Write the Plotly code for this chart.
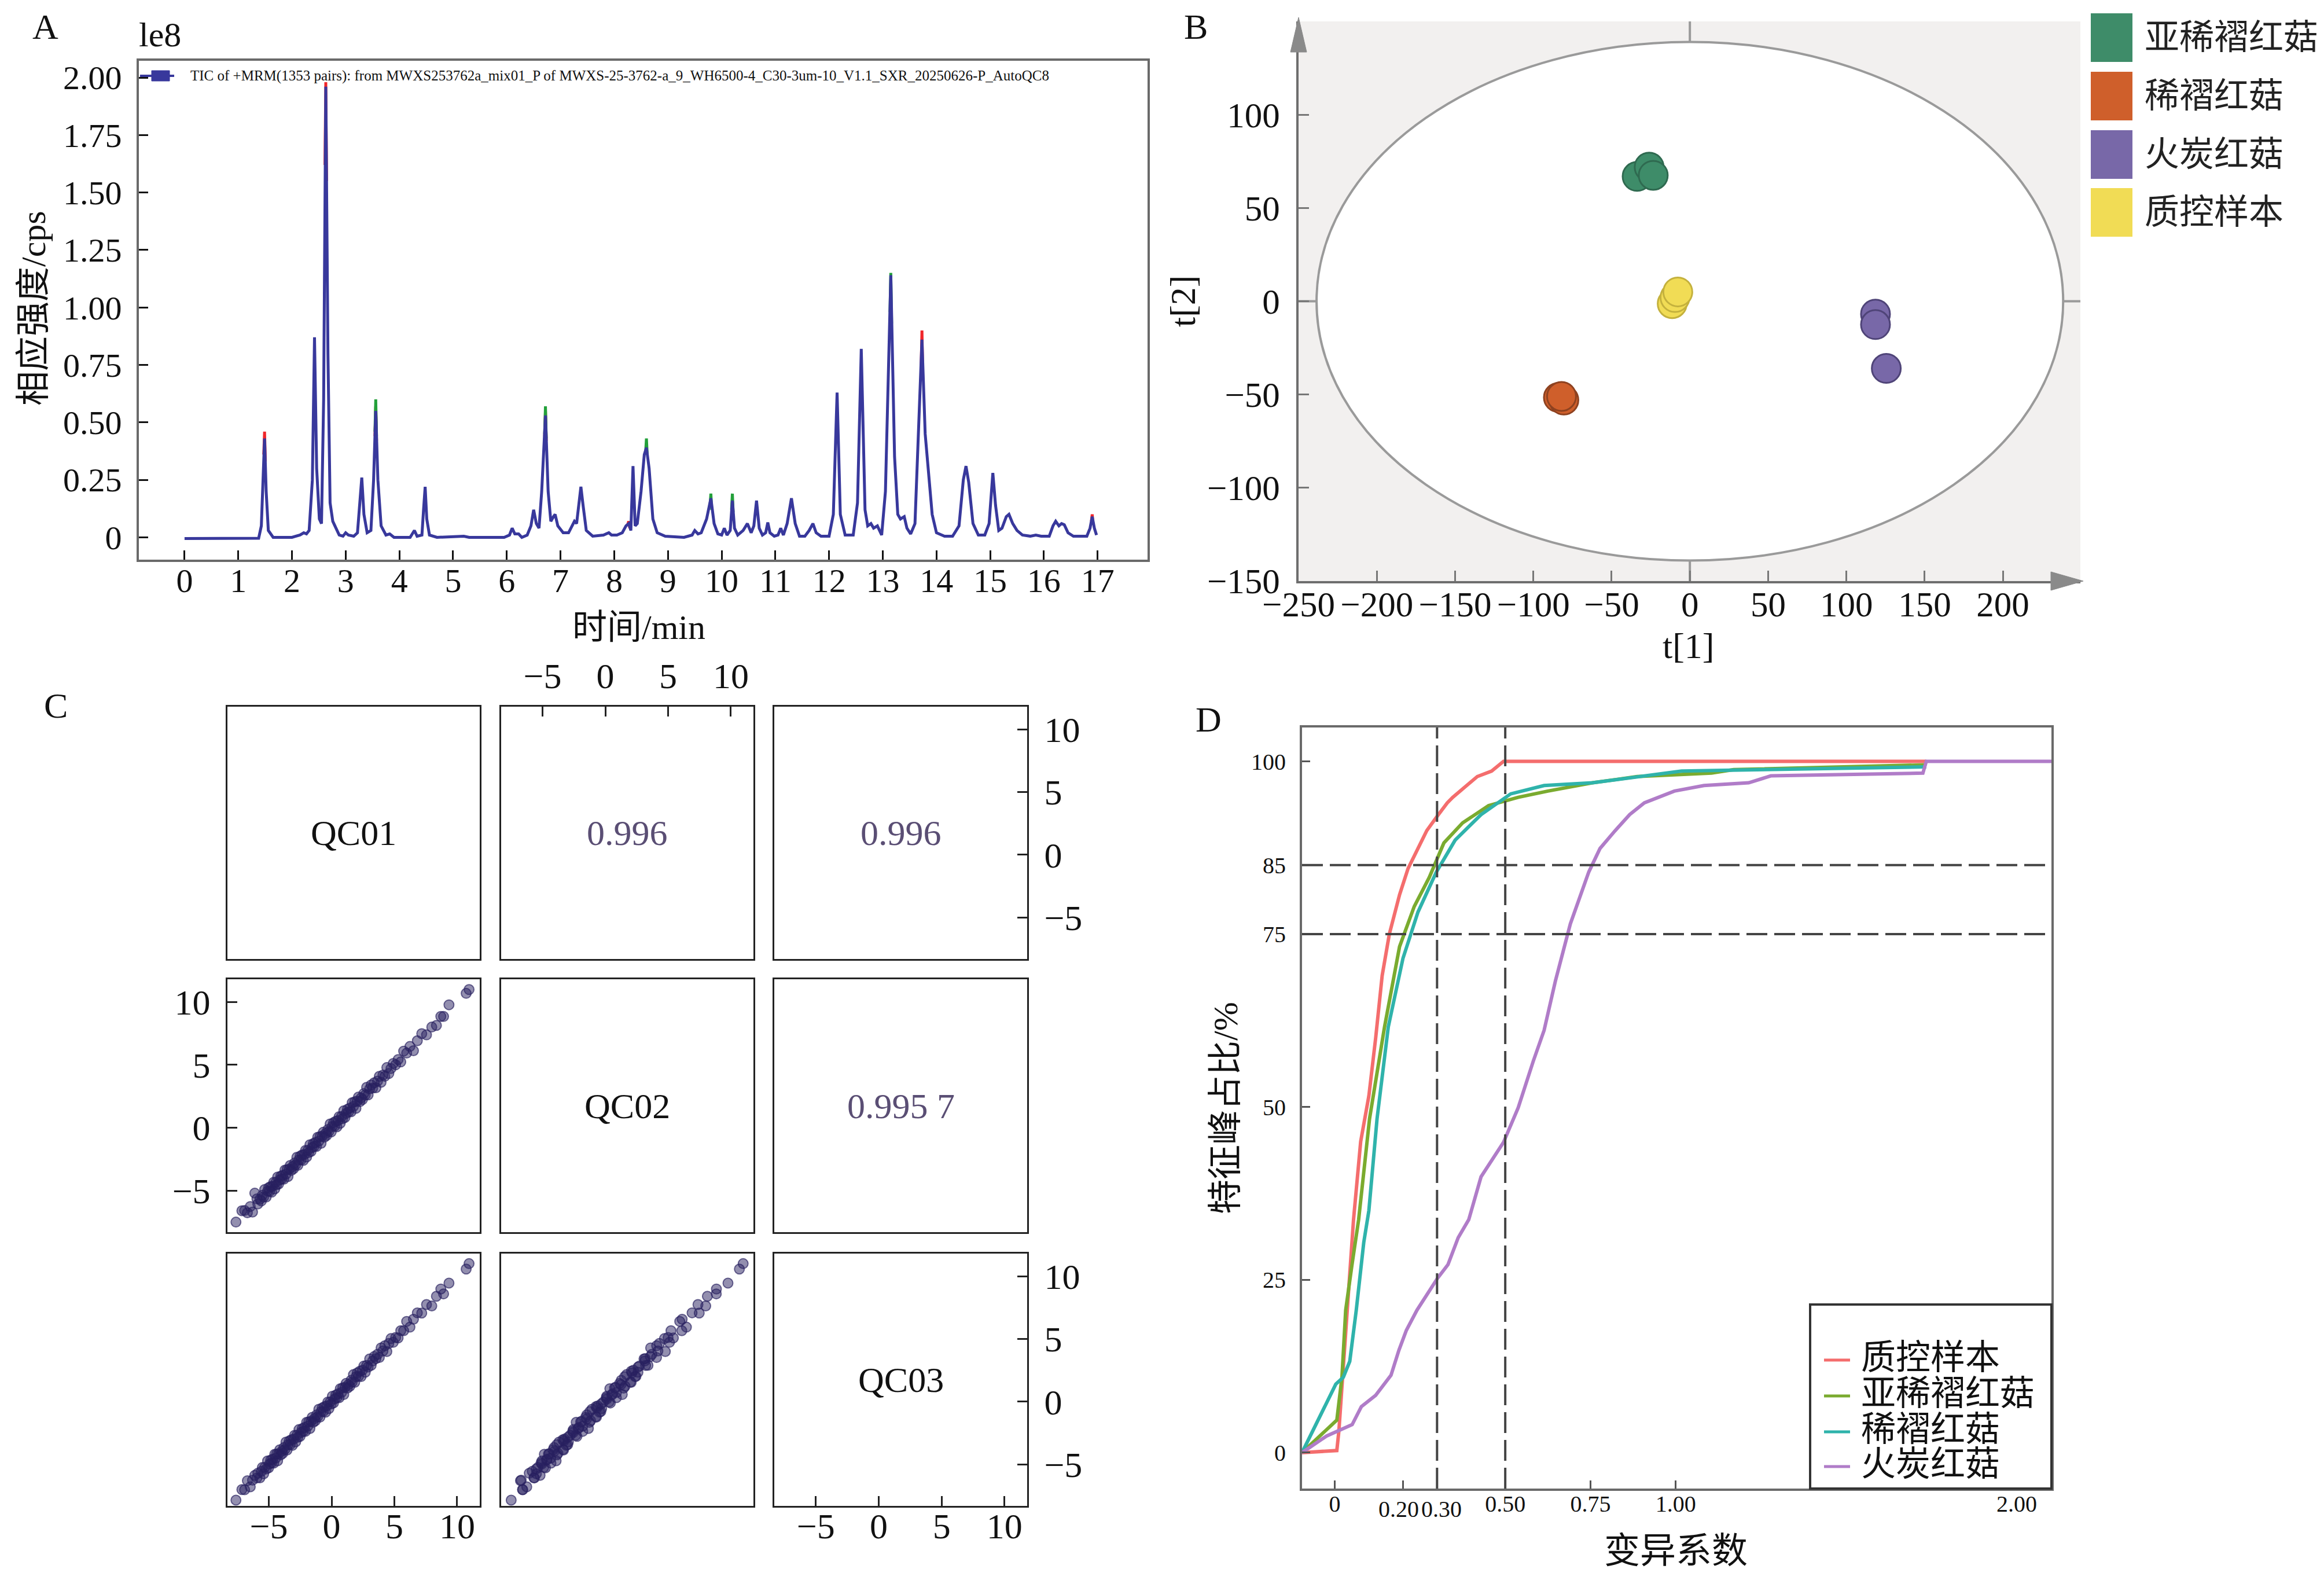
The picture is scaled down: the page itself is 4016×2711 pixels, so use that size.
import plotly.graph_objects as go

W, H = 4016, 2711
SERIF = "Liberation Serif, Noto Sans CJK SC, serif"
CJK = "Liberation Serif, Noto Sans CJK SC, sans-serif"

# ------------------------------------------------------------------ Panel A data
tic_time = [0.0, 1.0, 1.38, 1.43, 1.46, 1.49, 1.52, 1.56, 1.65, 2.0, 2.15, 2.22, 2.27, 2.32,
            2.38, 2.42, 2.46, 2.51, 2.55, 2.59, 2.63, 2.67, 2.71, 2.76, 2.82, 2.88, 2.95, 3.0,
            3.05, 3.15, 3.22, 3.27, 3.30, 3.34, 3.40, 3.47, 3.52, 3.56, 3.60, 3.66, 3.75, 3.82,
            3.9, 4.2, 4.28, 4.33, 4.42, 4.45, 4.48, 4.51, 4.56, 4.7, 5.2, 5.3, 5.95, 6.05, 6.1,
            6.15, 6.22, 6.28, 6.38, 6.45, 6.5, 6.55, 6.6, 6.65, 6.72, 6.77, 6.82, 6.87, 6.9,
            6.95, 7.05, 7.15, 7.22, 7.26, 7.3, 7.34, 7.38, 7.42, 7.48, 7.6, 7.8, 7.9, 7.95,
            8.05, 8.15, 8.22, 8.27, 8.31, 8.35, 8.39, 8.43, 8.5, 8.56, 8.6, 8.65, 8.72, 8.8,
            8.95, 9.3, 9.45, 9.5, 9.56, 9.62, 9.72, 9.8, 9.86, 9.93, 10.0, 10.05, 10.1, 10.16,
            10.2, 10.24, 10.3, 10.4, 10.48, 10.55, 10.6, 10.65, 10.7, 10.76, 10.82, 10.86,
            10.9, 10.98, 11.05, 11.1, 11.15, 11.22, 11.3, 11.37, 11.45, 11.55, 11.63, 11.7,
            11.76, 11.85, 12.0, 12.08, 12.15, 12.21, 12.3, 12.45, 12.53, 12.6, 12.67, 12.72,
            12.78, 12.83, 12.9, 12.98, 13.05, 13.15, 13.22, 13.28, 13.33, 13.4, 13.45, 13.52,
            13.6, 13.67, 13.73, 13.79, 13.85, 13.92, 14.0, 14.15, 14.3, 14.42, 14.5, 14.55,
            14.6, 14.68, 14.78, 14.9, 14.98, 15.05, 15.1, 15.16, 15.22, 15.3, 15.35, 15.42,
            15.5, 15.6, 15.75, 15.85, 15.95, 16.1, 16.17, 16.22, 16.28, 16.33, 16.38, 16.45,
            16.55, 16.8, 16.86, 16.9, 16.94, 16.98]
tic_intensity = [-0.005, -0.005, -0.004, 0.05, 0.25, 0.43, 0.20, 0.03, 0.0, 0.0, 0.01, 0.02, 0.015, 0.03,
                 0.25, 0.87, 0.30, 0.08, 0.06, 0.60, 1.96, 0.80, 0.15, 0.07, 0.04, 0.01, 0.005, 0.02,
                 0.01, 0.005, 0.02, 0.15, 0.26, 0.10, 0.02, 0.03, 0.25, 0.55, 0.25, 0.05, 0.01, 0.015,
                 0.0, 0.0, 0.03, 0.005, 0.01, 0.12, 0.22, 0.08, 0.01, 0.0, 0.005, 0.0, 0.0, 0.01, 0.04,
                 0.015, 0.015, 0.0, 0.01, 0.05, 0.12, 0.06, 0.04, 0.20, 0.53, 0.20, 0.07, 0.09, 0.10,
                 0.05, 0.02, 0.02, 0.05, 0.07, 0.06, 0.15, 0.22, 0.14, 0.03, 0.005, 0.01, 0.02, 0.01,
                 0.01, 0.02, 0.05, 0.06, 0.03, 0.31, 0.05, 0.06, 0.20, 0.36, 0.39, 0.30, 0.08, 0.02,
                 0.005, 0.0, 0.01, 0.03, 0.015, 0.02, 0.08, 0.17, 0.06, 0.015, 0.01, 0.04, 0.01, 0.03,
                 0.16, 0.04, 0.01, 0.03, 0.06, 0.02, 0.05, 0.16, 0.04, 0.01, 0.02, 0.065,
                 0.02, 0.005, 0.01, 0.04, 0.01, 0.06, 0.17, 0.06, 0.005, 0.005, 0.03, 0.06,
                 0.02, 0.005, 0.005, 0.10, 0.63, 0.10, 0.01, 0.01, 0.15, 0.82, 0.12, 0.05,
                 0.06, 0.04, 0.05, 0.01, 0.20, 1.14, 0.35, 0.10, 0.08, 0.09, 0.04, 0.015,
                 0.06, 0.50, 0.86, 0.45, 0.30, 0.10, 0.02, 0.005, 0.005, 0.05, 0.25, 0.31,
                 0.24, 0.06, 0.01, 0.01, 0.06, 0.28, 0.14, 0.03, 0.04, 0.09, 0.10, 0.06,
                 0.03, 0.01, 0.005, 0.01, 0.005, 0.005, 0.05, 0.07, 0.05, 0.06, 0.055, 0.02,
                 0.005, 0.005, 0.04, 0.09, 0.04, 0.01]
red_tip_time = [1.475, 1.49, 1.505, None, 2.615, 2.63, 2.645, None, 3.545, 3.56, 3.575, None,
                6.705, 6.72, 6.735, None, 8.245, 8.27, 8.29, None, 13.715, 13.73, 13.745, None,
                16.885, 16.9, 16.915]
red_tip_intensity = [0.36, 0.46, 0.33, None, 1.62, 1.98, 1.55, None, 0.44, 0.57, 0.42, None,
                     0.44, 0.55, 0.42, None, 0.05, 0.07, 0.04, None, 0.74, 0.90, 0.70, None,
                     0.07, 0.10, 0.06]
green_tip_time = [3.545, 3.56, 3.575, None, 6.705, 6.72, 6.735, None, 8.585, 8.6, 8.615, None,
                  9.785, 9.8, 9.815, None, 10.185, 10.2, 10.215, None, 13.135, 13.15, 13.165]
green_tip_intensity = [0.46, 0.60, 0.44, None, 0.45, 0.57, 0.43, None, 0.37, 0.43, 0.36, None,
                       0.14, 0.19, 0.12, None, 0.12, 0.19, 0.11, None, 0.98, 1.15, 0.93]
a_xticks = list(range(0, 18))
a_yticks = [0, 0.25, 0.5, 0.75, 1.0, 1.25, 1.5, 1.75, 2.0]
a_yticktext = ["0", "0.25", "0.50", "0.75", "1.00", "1.25", "1.50", "1.75", "2.00"]
tic_name = ("TIC of +MRM(1353 pairs): from MWXS253762a_mix01_P of "
            "MWXS-25-3762-a_9_WH6500-4_C30-3um-10_V1.1_SXR_20250626-P_AutoQC8")

# ------------------------------------------------------------------ Panel B data
group_names = ["亚稀褶红菇", "稀褶红菇", "火炭红菇", "质控样本"]
t1_sub = [-33.7, -26.0, -23.4]
t2_sub = [66.9, 71.9, 67.5]
t1_xi = [-84.0, -80.5, -82.0]
t2_xi = [-51.6, -53.0, -51.0]
t1_huo = [118.6, 118.6, 125.5]
t2_huo = [-6.9, -12.5, -36.0]
t1_qc = [-11.3, -9.5, -7.7]
t2_qc = [-1.3, 2.0, 5.0]
ellipse_radius = [238.5, 139.0]
b_xticks = [-250, -200, -150, -100, -50, 0, 50, 100, 150, 200]
b_yticks = [-150, -100, -50, 0, 50, 100]

# ------------------------------------------------------------------ Panel C data
qc01 = [-7.62, -7.15, -6.93, -6.71, -6.48, -6.30, -6.12, -5.95, -5.88, -5.71,
        -5.60, -5.52, -5.41, -5.33, -5.21, -5.10, -5.02, -4.94, -4.86, -4.77,
        -4.70, -4.61, -4.53, -4.45, -4.38, -4.30, -4.22, -4.13, -4.05, -3.97,
        -3.90, -3.81, -3.72, -3.64, -3.55, -3.47, -3.38, -3.30, -3.21, -3.12,
        -3.03, -2.95, -2.86, -2.77, -2.69, -2.60, -2.51, -2.43, -2.34, -2.25,
        -2.17, -2.08, -1.99, -1.90, -1.82, -1.73, -1.64, -1.55, -1.46, -1.38,
        -1.29, -1.20, -1.11, -1.02, -0.93, -0.84, -0.75, -0.66, -0.57, -0.48,
        -0.39, -0.30, -0.21, -0.12, -0.03, 0.06, 0.15, 0.24, 0.33, 0.42,
        0.51, 0.60, 0.69, 0.79, 0.88, 0.97, 1.07, 1.16, 1.26, 1.35,
        1.45, 1.55, 1.64, 1.74, 1.84, 1.94, 2.04, 2.14, 2.25, 2.35,
        2.46, 2.57, 2.68, 2.79, 2.91, 3.03, 3.15, 3.27, 3.40, 3.53,
        3.66, 3.80, 3.94, 4.09, 4.24, 4.40, 4.56, 4.73, 4.91, 5.10,
        5.30, 5.51, 5.74, 5.98, 6.24, 6.52, 6.83, 7.18, 7.56, 7.98,
        8.35, 8.70, 8.92, 9.35, 10.72, 10.95]
qc02 = [-7.50, -6.60, -6.58, -6.76, -6.26, -6.70, -5.20, -5.65, -6.06, -5.69,
        -5.82, -5.37, -5.49, -4.91, -5.51, -5.05, -4.77, -5.06, -4.68, -5.12,
        -4.65, -4.33, -4.86, -4.35, -4.53, -3.92, -4.47, -4.15, -3.85, -4.07,
        -3.78, -4.09, -3.37, -3.69, -3.33, -3.87, -3.30, -3.00, -3.39, -3.10,
        -3.25, -2.80, -2.94, -2.35, -2.99, -2.55, -2.26, -2.55, -2.16, -2.60,
        -2.12, -1.80, -2.32, -1.80, -1.97, -1.35, -1.89, -1.57, -1.26, -1.48,
        -1.17, -1.48, -0.76, -1.07, -0.71, -1.24, -0.67, -0.36, -0.75, -0.46,
        -0.61, -0.15, -0.29, 0.30, -0.33, 0.11, 0.40, 0.12, 0.51, 0.07,
        0.56, 0.88, 0.36, 0.89, 0.73, 1.35, 0.82, 1.14, 1.46, 1.25,
        1.57, 1.27, 1.99, 1.69, 2.06, 1.54, 2.12, 2.44, 2.07, 2.37,
        2.24, 2.72, 2.60, 3.21, 2.61, 3.08, 3.40, 3.15, 3.58, 3.18,
        3.71, 4.08, 3.61, 4.19, 4.09, 4.78, 4.31, 4.71, 5.11, 5.00,
        5.42, 5.23, 6.09, 5.93, 6.46, 6.12, 6.91, 7.48, 7.38, 8.00,
        8.13, 8.85, 8.84, 9.77, 10.68, 10.98]
qc03 = [-7.84, -7.00, -7.01, -6.29, -6.78, -6.25, -5.87, -6.07, -5.70, -6.06,
        -5.55, -5.24, -5.74, -5.23, -5.36, -4.72, -5.27, -4.96, -4.66, -4.87,
        -4.58, -4.89, -4.18, -4.50, -4.16, -4.70, -4.14, -3.83, -4.23, -3.95,
        -4.12, -3.66, -3.80, -3.22, -3.85, -3.42, -3.13, -3.42, -3.03, -3.47,
        -2.98, -2.67, -3.19, -2.67, -2.84, -2.22, -2.76, -2.45, -2.14, -2.35,
        -2.05, -2.36, -1.64, -1.95, -1.60, -2.13, -1.56, -1.25, -1.64, -1.36,
        -1.51, -1.05, -1.19, -0.60, -1.23, -0.79, -0.50, -0.78, -0.39, -0.83,
        -0.34, -0.02, -0.54, -0.02, -0.18, 0.44, -0.10, 0.22, 0.53, 0.32,
        0.63, 0.32, 1.04, 0.74, 1.10, 0.57, 1.15, 1.46, 1.08, 1.37,
        1.23, 1.70, 1.56, 2.16, 1.54, 1.99, 2.29, 2.02, 2.43, 2.00,
        2.51, 2.85, 2.35, 2.89, 2.76, 3.41, 2.90, 3.25, 3.60, 3.43,
        3.78, 3.52, 4.29, 4.04, 4.46, 4.00, 4.64, 5.03, 4.73, 5.12,
        5.08, 5.66, 5.66, 6.40, 5.94, 6.57, 7.08, 7.06, 7.74, 7.63,
        8.40, 8.98, 8.59, 9.45, 10.57, 11.00]
qc_labels = ["QC01", "QC02", "QC03"]
qc_corr_text = ["0.996", "0.996", "0.995 7"]
c_ticks = [-5, 0, 5, 10]

# ------------------------------------------------------------------ Panel D data
d_names = ["质控样本", "亚稀褶红菇", "稀褶红菇", "火炭红菇"]
cv_qc = [-0.096, 0.006, 0.012, 0.025, 0.040, 0.055, 0.076, 0.10, 0.12, 0.139, 0.16, 0.19,
         0.215, 0.244, 0.27, 0.298, 0.33, 0.346, 0.38, 0.418, 0.46, 0.495, 1.735]
pct_qc = [0, 0.3, 3.1, 12.5, 23.9, 33.7, 45, 51.6, 60, 69, 75, 80.7,
          84.5, 87.4, 90.0, 91.9, 94.0, 94.8, 96.2, 97.8, 98.6, 100, 100]
cv_sub = [-0.096, 0.006, 0.021, 0.032, 0.05, 0.07, 0.102, 0.146, 0.19, 0.233, 0.277, 0.32,
          0.375, 0.451, 0.538, 0.625, 0.756, 0.887, 1.105, 1.17, 1.735]
pct_sub = [0, 4.7, 10.9, 20.6, 27, 33.7, 48.3, 61.6, 73.2, 79, 83.2, 88.2,
           91.1, 93.6, 94.8, 95.7, 96.9, 97.8, 98.3, 98.8, 99.5]
cv_xi = [-0.096, 0.003, 0.025, 0.044, 0.063, 0.085, 0.1, 0.124, 0.157, 0.2, 0.244, 0.298,
         0.353, 0.429, 0.516, 0.614, 0.756, 0.887, 1.017, 1.735]
pct_xi = [0, 9.9, 10.9, 13.2, 20.6, 30.4, 35, 48.3, 61.6, 71.5, 78.2, 84,
          88.6, 92.3, 95.3, 96.5, 96.9, 97.8, 98.6, 99.2]
cv_huo = [-0.096, -0.024, 0.051, 0.078, 0.12, 0.165, 0.188, 0.21, 0.241, 0.271, 0.301, 0.332,
          0.362, 0.393, 0.429, 0.495, 0.538, 0.582, 0.614, 0.647, 0.691, 0.745, 0.778, 0.821,
          0.865, 0.908, 0.996, 1.083, 1.214, 1.279, 1.725, 1.735, 2.102]
pct_huo = [0, 2.4, 4.05, 6.65, 8.3, 11.2, 14.8, 17.7, 20.6, 22.9, 25.2, 27.2,
           31.1, 33.7, 39.9, 44.9, 49.9, 56.6, 61.1, 68.2, 76.5, 84, 87.4, 89.9,
           92.3, 94, 95.7, 96.5, 96.9, 97.9, 98.3, 100, 100]
d_xticks = [0, 0.2, 0.3, 0.5, 0.75, 1.0, 2.0]
d_xticktext = ["0", "", "", "0.50", "0.75", "1.00", "2.00"]
d_close_ticks = [0.2, 0.3]
d_close_text = ["0.20", "0.30"]
d_yticks = [0, 25, 50, 75, 85, 100]
cv_cutoffs = [0.3, 0.5]
pct_cutoffs = [75, 85]


# ------------------------------------------------------------------ helpers
def xd(a, b):
    return [a / W, b / W]


def yd(top, bottom):
    return [1 - bottom / H, 1 - top / H]


def px(x):
    return x / W


def py(y):
    return 1 - y / H


annotations = []
shapes = []


def label(text, x, y, size, color="#111", angle=0, xanchor="center", yanchor="middle", family=SERIF):
    annotations.append(dict(text=text, x=px(x), y=py(y), xref="paper", yref="paper",
                            showarrow=False, textangle=angle, xanchor=xanchor, yanchor=yanchor,
                            font=dict(family=family, size=size, color=color)))


fig = go.Figure()
layout = dict(width=W, height=H, margin=dict(l=0, r=0, t=0, b=0, pad=0), template="none",
              paper_bgcolor="white", plot_bgcolor="rgba(0,0,0,0)", showlegend=False)

# ================================================================== Panel A
NAVY = "#38389c"
A_dom_x, A_dom_y = xd(232, 1975), yd(97, 959)
fig.add_trace(go.Scatter(x=red_tip_time, y=red_tip_intensity, mode="lines", xaxis="x", yaxis="y",
                         line=dict(color="#f0262a", width=5), showlegend=False, hoverinfo="skip"))
fig.add_trace(go.Scatter(x=green_tip_time, y=green_tip_intensity, mode="lines", xaxis="x", yaxis="y",
                         line=dict(color="#23a03a", width=5), showlegend=False, hoverinfo="skip"))
fig.add_trace(go.Scatter(x=tic_time, y=tic_intensity, mode="lines", xaxis="x", yaxis="y",
                         name=tic_name, line=dict(color=NAVY, width=5), showlegend=False))
# legend key of panel A (line with square marker) + its text
shapes.append(dict(type="line", xref="paper", yref="paper", x0=px(234), x1=px(293),
                   y0=py(123), y1=py(123), line=dict(color=NAVY, width=4)))
shapes.append(dict(type="rect", xref="paper", yref="paper", x0=px(254), x1=px(285),
                   y0=py(132), y1=py(114), fillcolor=NAVY, line=dict(color=NAVY, width=1)))
label(tic_name, 319, 123, 25, xanchor="left")
layout["xaxis"] = dict(domain=A_dom_x, range=[-0.85, 17.93], anchor="y", tickvals=a_xticks,
                       ticks="inside", ticklen=16, tickwidth=3, tickcolor="#111",
                       showline=True, mirror=True, linecolor="#6a6a6a", linewidth=4,
                       showgrid=False, zeroline=False, ticklabelstandoff=-18, automargin=False,
                       tickangle=0, tickfont=dict(family=SERIF, size=58, color="#111"))
layout["yaxis"] = dict(domain=A_dom_y, range=[-0.097, 2.073], anchor="x", tickvals=a_yticks,
                       ticktext=a_yticktext, ticks="inside", ticklen=16, tickwidth=3,
                       tickcolor="#111", showline=True, mirror=True, linecolor="#6a6a6a",
                       linewidth=4, showgrid=False, zeroline=False, ticklabelstandoff=14,
                       automargin=False, tickfont=dict(family=SERIF, size=58, color="#111"))
label("A", 70, 38, 62)
label("le8", 268, 52, 60)
label("时间/min", 1096, 1076, 60, family=CJK)
label("相应强度/cps", 50, 525, 60, angle=-90, family=CJK)

# ================================================================== Panel B
B_dom_x, B_dom_y = xd(2236, 3587), yd(29, 996)
shapes.append(dict(type="rect", xref="x2 domain", yref="y2 domain", x0=0, x1=1, y0=0, y1=1,
                   fillcolor="#f2f0ef", line=dict(width=0), layer="below"))
shapes.append(dict(type="circle", xref="x2", yref="y2",
                   x0=-ellipse_radius[0], x1=ellipse_radius[0],
                   y0=-ellipse_radius[1], y1=ellipse_radius[1],
                   fillcolor="white", line=dict(color="#9a9a9a", width=4), layer="below"))
shapes.append(dict(type="line", xref="x2", yref="y2 domain", x0=0, x1=0, y0=0, y1=1,
                   line=dict(color="#9a9a9a", width=4), layer="below"))
shapes.append(dict(type="line", xref="x2 domain", yref="y2", x0=0, x1=1, y0=0, y1=0,
                   line=dict(color="#9a9a9a", width=4), layer="below"))
# axis arrowheads
shapes.append(dict(type="path", xref="paper", yref="paper",
                   path=f"M {px(2236)},{py(22)} L {px(2222)},{py(82)} L {px(2250)},{py(82)} Z",
                   fillcolor="#8a8a8a", line=dict(color="#8a8a8a", width=1)))
shapes.append(dict(type="path", xref="paper", yref="paper",
                   path=f"M {px(3592)},{py(996)} L {px(3536)},{py(980)} L {px(3536)},{py(1012)} Z",
                   fillcolor="#8a8a8a", line=dict(color="#8a8a8a", width=1)))

b_groups = [(t1_sub, t2_sub, "#3e8c69", "#2f6a50"),
            (t1_xi, t2_xi, "#cf5f2b", "#8e4220"),
            (t1_huo, t2_huo, "#7868a8", "#4f4478"),
            (t1_qc, t2_qc, "#f1dc55", "#c4b13d")]
for (gx, gy, col, edge), name in zip(b_groups, group_names):
    fig.add_trace(go.Scatter(x=gx, y=gy, mode="markers", xaxis="x2", yaxis="y2", name=name,
                             showlegend=False,
                             marker=dict(size=50, color=col, line=dict(color=edge, width=3))))
layout["xaxis2"] = dict(domain=B_dom_x, range=[-250, 249.5], anchor="y2", tickvals=b_xticks,
                        ticks="inside", ticklen=18, tickwidth=3, tickcolor="#777",
                        showline=True, linecolor="#6e6e6e", linewidth=4, mirror=False,
                        showgrid=False, zeroline=False, ticklabelstandoff=-16, automargin=False,
                        tickangle=0, tickfont=dict(family=SERIF, size=61, color="#111"))
layout["yaxis2"] = dict(domain=B_dom_y, range=[-150, 150], anchor="x2", tickvals=b_yticks,
                        ticks="inside", ticklen=18, tickwidth=3, tickcolor="#777",
                        showline=True, linecolor="#6e6e6e", linewidth=4, mirror=False,
                        showgrid=False, zeroline=False, ticklabelstandoff=16, automargin=False,
                        tickfont=dict(family=SERIF, size=61, color="#111"))
label("B", 2058, 38, 62)
label("t[1]", 2910, 1108, 62)
label("t[2]", 2036, 512, 62, angle=-90)
legend_rows = [57, 158, 259, 359]
for name, (_, _, col, _), yc in zip(group_names, b_groups, legend_rows):
    shapes.append(dict(type="rect", xref="paper", yref="paper", x0=px(3605), x1=px(3677),
                       y0=py(yc + 42), y1=py(yc - 42), fillcolor=col, line=dict(width=0)))
    label(name, 3696, yc, 60, color="#222", xanchor="left", family=CJK)

# ================================================================== Panel C
c_cols = [(385, 821), (858, 1294), (1330, 1767)]
c_rows = [(1213, 1649), (1684, 2121), (2158, 2594)]
c_range = [-8.3, 11.8]
pairs = {(1, 0): (qc01, qc02), (2, 0): (qc01, qc03), (2, 1): (qc02, qc03)}
for r in range(3):
    for c in range(3):
        k = 3 + r * 3 + c
        xa, ya = f"xaxis{k}", f"yaxis{k}"
        xa_ref, ya_ref = f"x{k}", f"y{k}"
        show_x = None
        show_y = None
        if r == 0 and c == 1:
            show_x = "top"
        if r == 2 and c in (0, 2):
            show_x = "bottom"
        if c == 0 and r == 1:
            show_y = "left"
        if c == 2 and r in (0, 2):
            show_y = "right"
        common = dict(range=c_range, showline=True, mirror=True, linecolor="#222", linewidth=3,
                      showgrid=False, zeroline=False, tickvals=c_ticks,
                      tickwidth=3, tickcolor="#222", ticklen=17, automargin=False, tickangle=0,
                      tickfont=dict(family=SERIF, size=62, color="#111"))
        layout[xa] = dict(common, domain=xd(*c_cols[c]), anchor=ya_ref,
                          side=show_x or "bottom", ticks="inside" if show_x else "",
                          showticklabels=bool(show_x),
                          ticklabelstandoff=4 if show_x == "top" else -21)
        layout[ya] = dict(common, domain=yd(*c_rows[r]), anchor=xa_ref,
                          side=show_y or "left", ticks="inside" if show_y else "",
                          showticklabels=bool(show_y), ticklabelstandoff=14)
        if r == c:
            fig.add_trace(go.Scatter(x=[None], y=[None], xaxis=xa_ref, yaxis=ya_ref,
                                     showlegend=False, hoverinfo="skip"))
            annotations.append(dict(text=qc_labels[r], x=0.5, y=0.5, xref=f"{xa_ref} domain",
                                    yref=f"{ya_ref} domain", showarrow=False,
                                    font=dict(family=SERIF, size=62, color="#111")))
        elif c > r:
            fig.add_trace(go.Scatter(x=[None], y=[None], xaxis=xa_ref, yaxis=ya_ref,
                                     showlegend=False, hoverinfo="skip"))
            idx = {(0, 1): 0, (0, 2): 1, (1, 2): 2}[(r, c)]
            annotations.append(dict(text=qc_corr_text[idx], x=0.5, y=0.5, xref=f"{xa_ref} domain",
                                    yref=f"{ya_ref} domain", showarrow=False,
                                    font=dict(family=SERIF, size=62, color="#5a4e74")))
        else:
            sx, sy = pairs[(r, c)]
            fig.add_trace(go.Scatter(x=sx, y=sy, mode="markers", xaxis=xa_ref, yaxis=ya_ref,
                                     showlegend=False,
                                     marker=dict(size=17, color="rgba(40,32,96,0.5)",
                                                 line=dict(color="rgba(40,32,96,0.65)", width=2))))
label("C", 88, 1211, 62)

# ================================================================== Panel D
D_dom_x, D_dom_y = xd(2242, 3537), yd(1249, 2564)
for xv in cv_cutoffs:
    shapes.append(dict(type="line", xref="x12", yref="y12 domain", x0=xv, x1=xv, y0=0, y1=1,
                       line=dict(color="#444", width=4, dash="36px,12px")))
for yv in pct_cutoffs:
    shapes.append(dict(type="line", xref="x12 domain", yref="y12", x0=0, x1=1, y0=yv, y1=yv,
                       line=dict(color="#444", width=4, dash="36px,12px")))
d_series = [(cv_qc, pct_qc, "#f46d6d"), (cv_sub, pct_sub, "#7aab2f"),
            (cv_xi, pct_xi, "#2fb3ab"), (cv_huo, pct_huo, "#b07cc8")]
for (dx, dy, col), name in zip(d_series, d_names):
    fig.add_trace(go.Scatter(x=dx, y=dy, mode="lines", xaxis="x12", yaxis="y12", name=name,
                             showlegend=False, line=dict(color=col, width=6)))
layout["xaxis12"] = dict(domain=D_dom_x, range=[-0.096, 2.102], anchor="y12", tickvals=d_xticks,
                         ticktext=d_xticktext, ticks="inside", ticklen=14, tickwidth=3,
                         tickcolor="#555", showline=True, mirror=True, linecolor="#6a6a6a",
                         linewidth=4, showgrid=False, zeroline=False, ticklabelstandoff=-12,
                         automargin=False, tickangle=0,
                         tickfont=dict(family=SERIF, size=40, color="#111"))
layout["yaxis12"] = dict(domain=D_dom_y, range=[-5.2, 104.9], anchor="x12", tickvals=d_yticks,
                         ticks="inside", ticklen=14, tickwidth=3, tickcolor="#555",
                         showline=True, mirror=True, linecolor="#6a6a6a", linewidth=4,
                         showgrid=False, zeroline=False, ticklabelstandoff=16, automargin=False,
                         tickfont=dict(family=SERIF, size=40, color="#111"))
# the two crowded tick labels 0.20 / 0.30 are set so they abut, as in the original
mid_cv = sum(d_close_ticks) / 2
for txt, anchor in zip(d_close_text, ["right", "left"]):
    annotations.append(dict(text=txt, x=mid_cv, y=2599, xref="x12", yref="paper",
                            showarrow=False, xanchor=anchor, yanchor="middle",
                            font=dict(family=SERIF, size=40, color="#111")))
annotations[-1]["y"] = py(2599)
annotations[-2]["y"] = py(2599)
# legend box
shapes.append(dict(type="rect", xref="paper", yref="paper", x0=px(3120), x1=px(3537),
                   y0=py(2564), y1=py(2246), fillcolor="white", line=dict(color="#333", width=4)))
d_leg_rows = [2338, 2400, 2462, 2522]
for (_, _, col), name, yc in zip(d_series, d_names, d_leg_rows):
    shapes.append(dict(type="line", xref="paper", yref="paper", x0=px(3144), x1=px(3189),
                       y0=py(yc + 4), y1=py(yc + 4), line=dict(color=col, width=5)))
    label(name, 3206, yc, 60, color="#111", xanchor="left", family=CJK)
label("D", 2080, 1235, 62)
label("变异系数", 2888, 2672, 62, family=CJK)
label("特征峰占比/%", 2110, 1907, 60, angle=-90, family=CJK)

layout["annotations"] = annotations
layout["shapes"] = shapes
fig.update_layout(**layout)
fig.write_html("out.html")
